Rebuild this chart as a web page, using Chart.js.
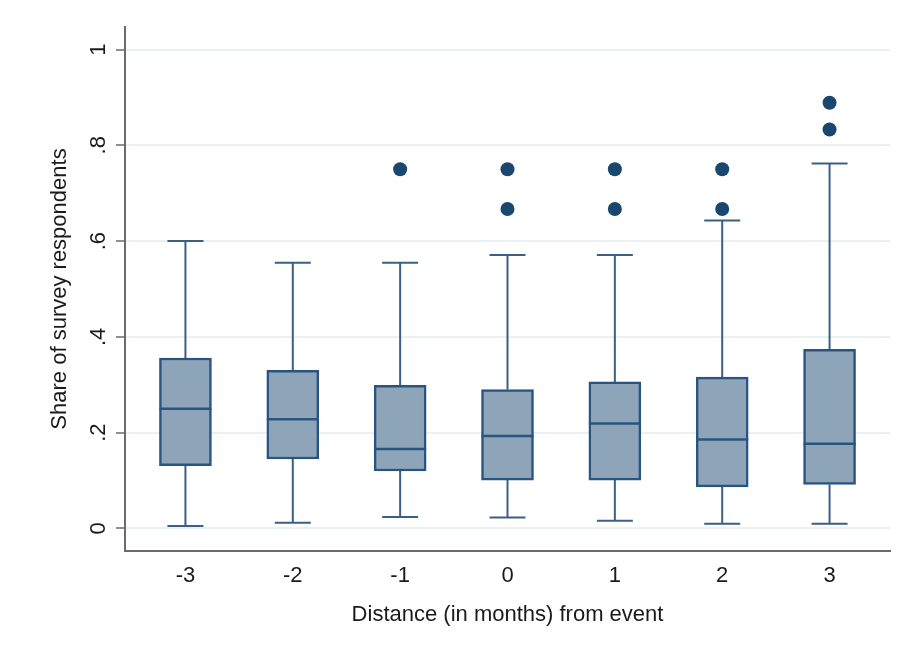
<!DOCTYPE html>
<html>
<head>
<meta charset="utf-8">
<script src="https://cdn.jsdelivr.net/npm/chart.js@4.4.1/dist/chart.umd.min.js"></script>
<style>
  html, body { margin: 0; padding: 0; background: #ffffff; }
  #wrap { width: 904px; height: 660px; position: relative; }
</style>
</head>
<body>
<div id="wrap"><canvas id="c" width="904" height="660"></canvas></div>
<script>
// ---- data ----
const categories   = [-3, -2, -1, 0, 1, 2, 3];
const xTickLabels  = ['-3', '-2', '-1', '0', '1', '2', '3'];
const whiskerLow   = [0.005, 0.012, 0.024, 0.023, 0.016, 0.010, 0.010];
const q1           = [0.131, 0.145, 0.120, 0.101, 0.101, 0.087, 0.092];
const median       = [0.250, 0.228, 0.166, 0.193, 0.219, 0.186, 0.177];
const q3           = [0.356, 0.330, 0.299, 0.290, 0.306, 0.316, 0.374];
const whiskerHigh  = [0.600, 0.555, 0.555, 0.571, 0.571, 0.643, 0.762];
const outlierX     = [-1, 0, 0, 1, 1, 2, 2, 3, 3];
const outlierY     = [0.750, 0.750, 0.667, 0.750, 0.667, 0.750, 0.667, 0.889, 0.833];
const yTickValues  = [0, 0.2, 0.4, 0.6, 0.8, 1];
const yTickLabels  = ['0', '.2', '.4', '.6', '.8', '1'];
const xTitle = 'Distance (in months) from event';
const yTitle = 'Share of survey respondents';

// ---- styles ----
const FONT = '"Liberation Sans", Arial, sans-serif';
const FS = 22;
const BOX_FILL = '#8ea4b8';
const BOX_LINE = '#2a5480';
const WHISKER = '#3c5f84';
const DOT = '#1a476f';
const AXIS = '#6b6b6b';
const GRID = '#eaf1f3';

const boxData = categories.map((c, i) => ({ x: c, y: [q1[i], q3[i]] }));
const outlierData = outlierX.map((x, i) => ({ x: x, y: outlierY[i] }));

const boxPlugin = {
  id: 'boxParts',
  beforeDatasetsDraw(chart) {
    const { ctx, scales: { x, y } } = chart;
    ctx.save();
    ctx.strokeStyle = WHISKER;
    ctx.lineWidth = 2;
    const capHalf = 18;
    categories.forEach((c, i) => {
      const px = x.getPixelForValue(c);
      const yl = y.getPixelForValue(whiskerLow[i]);
      const yq1 = y.getPixelForValue(q1[i]);
      const yq3 = y.getPixelForValue(q3[i]);
      const yh = y.getPixelForValue(whiskerHigh[i]);
      ctx.beginPath();
      ctx.moveTo(px, yl); ctx.lineTo(px, yq1);
      ctx.moveTo(px, yq3); ctx.lineTo(px, yh);
      ctx.moveTo(px - capHalf, yl); ctx.lineTo(px + capHalf, yl);
      ctx.moveTo(px - capHalf, yh); ctx.lineTo(px + capHalf, yh);
      ctx.stroke();
    });
    ctx.restore();
  },
  afterDatasetDraw(chart, args) {
    if (args.index !== 0) return;
    const { ctx, scales: { x, y } } = chart;
    ctx.save();
    ctx.strokeStyle = BOX_LINE;
    ctx.lineWidth = 2.5;
    const half = 26;
    categories.forEach((c, i) => {
      const px = x.getPixelForValue(c);
      const ym = y.getPixelForValue(median[i]);
      ctx.beginPath();
      ctx.moveTo(px - half, ym); ctx.lineTo(px + half, ym);
      ctx.stroke();
    });
    ctx.restore();
  },
  afterDraw(chart) {
    const { ctx, scales: { y } } = chart;
    ctx.save();
    ctx.fillStyle = '#1a1a1a';
    ctx.font = FS + 'px ' + FONT;
    ctx.textAlign = 'center';
    ctx.textBaseline = 'middle';
    yTickValues.forEach((v, i) => {
      const py = y.getPixelForValue(v);
      ctx.save();
      ctx.translate(99, py);
      ctx.rotate(-Math.PI / 2);
      ctx.fillText(yTickLabels[i], 0, 0);
      ctx.restore();
    });
    ctx.restore();
  }
};

new Chart(document.getElementById('c'), {
  type: 'bar',
  data: {
    datasets: [
      {
        type: 'bar',
        data: boxData,
        backgroundColor: BOX_FILL,
        borderColor: BOX_LINE,
        borderWidth: 2.5,
        borderSkipped: false,
        barThickness: 52,
        grouped: false,
        order: 2
      },
      {
        type: 'scatter',
        data: outlierData,
        backgroundColor: DOT,
        borderColor: DOT,
        pointRadius: 7,
        pointHoverRadius: 7,
        borderWidth: 0,
        order: 1
      }
    ]
  },
  options: {
    responsive: false,
    animation: false,
    layout: { padding: { left: 0, right: 14, top: 27, bottom: 0 } },
    plugins: { legend: { display: false }, tooltip: { enabled: false } },
    scales: {
      x: {
        type: 'linear',
        offset: false,
        min: -3.563,
        max: 3.563,
        afterBuildTicks: s => { s.ticks = categories.map(v => ({ value: v })); },
        afterFit: s => { s.height = 109; },
        grid: { display: false, offset: false },
        border: { display: true, color: AXIS, width: 2 },
        ticks: {
          color: '#1a1a1a',
          font: { family: FONT, size: FS },
          padding: 4,
          maxRotation: 0,
          autoSkip: false,
          callback: (v) => xTickLabels[categories.indexOf(v)]
        },
        title: {
          display: true,
          text: xTitle,
          color: '#1a1a1a',
          font: { family: FONT, size: FS },
          padding: { top: 0, bottom: 32 }
        }
      },
      y: {
        type: 'linear',
        min: -0.047,
        max: 1.047,
        afterBuildTicks: s => { s.ticks = yTickValues.map(v => ({ value: v })); },
        afterFit: s => { s.width = 125; },
        grid: {
          color: GRID,
          lineWidth: 2,
          drawTicks: true,
          tickLength: 9,
          tickColor: AXIS,
          tickWidth: 1.5
        },
        border: { display: true, color: AXIS, width: 2 },
        ticks: { display: false },
        title: {
          display: true,
          text: yTitle,
          color: '#1a1a1a',
          font: { family: FONT, size: FS },
          padding: { top: 47, bottom: 0 }
        }
      }
    }
  },
  plugins: [boxPlugin]
});
</script>
</body>
</html>
